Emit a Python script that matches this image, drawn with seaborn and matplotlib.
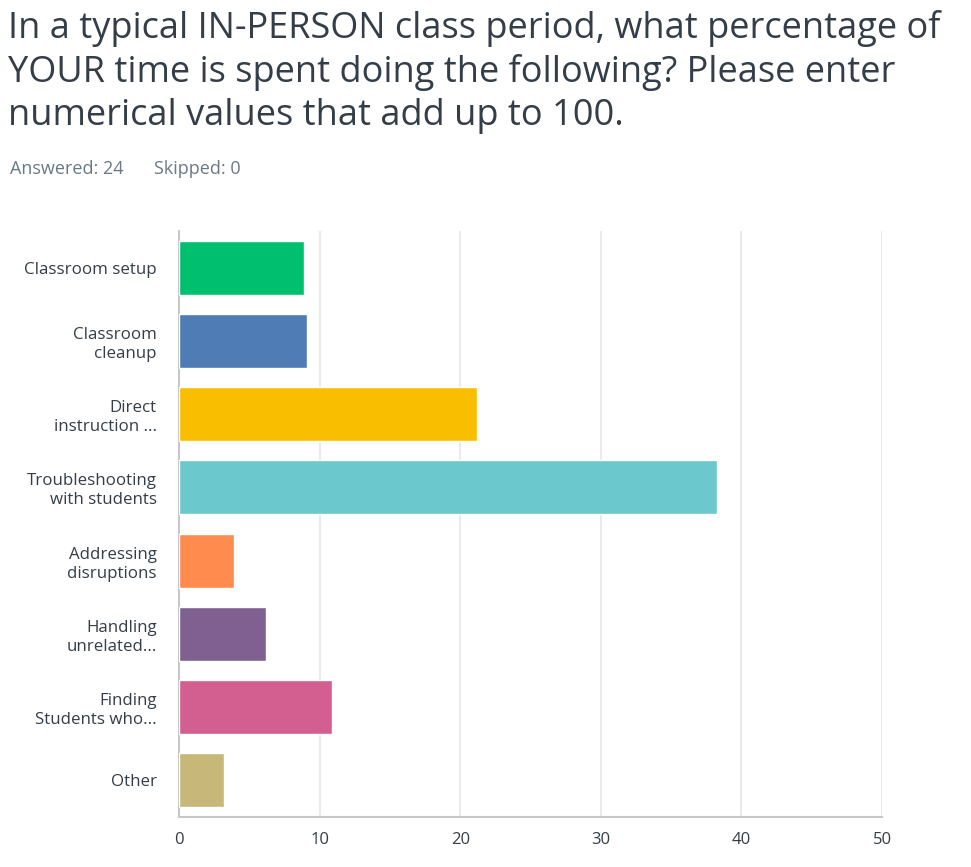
import pandas as pd
import matplotlib.pyplot as plt
import seaborn as sns

# survey answers (percent of time)
categories = [
    "Classroom setup",
    "Classroom\ncleanup",
    "Direct\ninstruction ...",
    "Troubleshooting\nwith students",
    "Addressing\ndisruptions",
    "Handling\nunrelated...",
    "Finding\nStudents who...",
    "Other",
]
values = [8.9, 9.1, 21.2, 38.3, 3.9, 6.2, 10.9, 3.2]
bar_colors = ["#00bf6f", "#507cb6", "#f9be00", "#6bc8cd",
              "#ff8b4f", "#7f6091", "#d25f90", "#c7b879"]
x_ticks = [0, 10, 20, 30, 40, 50]

TEXT = "#333e48"
GRAY = "#6a7885"

sns.set_theme(style="white")
plt.rcParams['font.family'] = ['Open Sans', 'DejaVu Sans']

df = pd.DataFrame({"category": categories, "value": values})

fig = plt.figure(figsize=(9.71, 8.67), dpi=100)
ax = fig.add_axes([179 / 971, 1 - 817 / 867, (882 - 179) / 971, (817 - 231) / 867])

sns.barplot(data=df, y="category", x="value", hue="category",
            palette=bar_colors, orient="h", width=0.74, legend=False,
            saturation=1, ax=ax, zorder=3)

ax.set_xlim(0, 50)
ax.set_ylim(len(categories) - 0.5, -0.5)
ax.set_xticks(x_ticks)
ax.set_xticklabels([str(t) for t in x_ticks], fontsize=12, color=TEXT)
ax.tick_params(axis='x', length=0, pad=11)
ax.tick_params(axis='y', length=0, pad=16)
for lbl in ax.get_yticklabels():
    lbl.set_fontsize(12.2)
    lbl.set_color(TEXT)
    lbl.set_multialignment('right')
    lbl.set_linespacing(1.25)
ax.set_xlabel("")
ax.set_ylabel("")

ax.grid(axis='x', color="#e6e6e6", linewidth=1.2, zorder=0)
for side in ['top', 'right']:
    ax.spines[side].set_visible(False)
ax.spines['left'].set_color("#c8c8c8")
ax.spines['bottom'].set_color("#c8c8c8")
ax.spines['left'].set_linewidth(1.5)
ax.spines['bottom'].set_linewidth(1.5)

fig.text(8 / 971, 1 - 10 / 867,
         "In a typical IN-PERSON class period, what percentage of\n"
         "YOUR time is spent doing the following? Please enter\n"
         "numerical values that add up to 100.",
         fontsize=26, color=TEXT, va='top', ha='left', linespacing=1.25)
fig.text(10 / 971, 1 - 169 / 867, "Answered: 24", fontsize=13, color=GRAY,
         va='center', ha='left')
fig.text(154 / 971, 1 - 169 / 867, "Skipped: 0", fontsize=13, color=GRAY,
         va='center', ha='left')

fig.savefig("out.png", dpi=100, facecolor="white")
